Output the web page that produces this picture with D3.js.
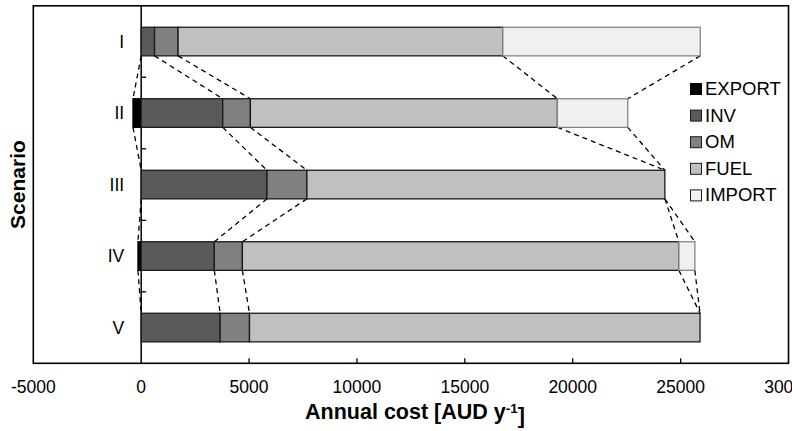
<!DOCTYPE html>
<html>
<head>
<meta charset="utf-8">
<script src="https://cdnjs.cloudflare.com/ajax/libs/d3/7.8.5/d3.min.js"></script>
<style>
	body { margin: 0; background: #ffffff; }
	#vizcontainer { width: 792px; height: 431px; }
	text { font-family: Arial, "Liberation Sans", sans-serif; fill: #000000; }
</style>
</head>
<body>
<div id="vizcontainer"></div>
<script>

// values (AUD per year)
var scenarios = ["I", "II", "III", "IV", "V"];
var exportCost = [0, -380, 0, -150, 0];
var invCost = [620, 3780, 5830, 3390, 3660];
var omCost = [1090, 1280, 1850, 1300, 1360];
var fuelCost = [15050, 14230, 16590, 20230, 20880];
var importCost = [9150, 3260, 0, 740, 0];

var seriesNames = ["EXPORT", "INV", "OM", "FUEL", "IMPORT"];
var seriesColors = ["#000000", "#5a5a5a", "#808080", "#c0c0c0", "#f0f0f0"];
var seriesStrokes = ["#000000", "#1a1a1a", "#1a1a1a", "#1a1a1a", "#858585"];
var xTicks = [-5000, 0, 5000, 10000, 15000, 20000, 25000, 30000];

var wwidth = 792;
var hheight = 431;
var frame = { left: 33.3, right: 788.5, top: 5.8, bottom: 363.3 };

var svg = null;
var x = null;
var y = null;

function buildSegments(){
	// every scenario is a row of stacked pieces, export sits left of zero
	var rows = [];
	for(var i = 0; i < scenarios.length; i++){
		var vals = [exportCost[i], invCost[i], omCost[i], fuelCost[i], importCost[i]];
		var segs = [];
		segs.push({ name: "EXPORT", x0: exportCost[i], x1: 0, k: 0 });
		var acc = 0;
		for(var k = 1; k < vals.length; k++){
			segs.push({ name: seriesNames[k], x0: acc, x1: acc + vals[k], k: k });
			acc = acc + vals[k];
		}
		// the edges joined by the dashed lines
		var edges = [exportCost[i]];
		for(var k = 1; k < segs.length; k++){
			edges.push(segs[k].x1);
		}
		rows.push({ id: scenarios[i], segs: segs, edges: edges });
	}
	return rows;
}

function showViz(){
	console.log("[showViz]");

	svg = d3.select("#vizcontainer").append("svg")
		.attr("width", wwidth)
		.attr("height", hheight);

	x = d3.scaleLinear().domain([-5000, 30000]).range([frame.left, frame.right]);
	y = d3.scaleBand().domain(scenarios).range([frame.top, frame.bottom]).paddingInner(0.6).paddingOuter(0.3);

	var rows = buildSegments();

	// frame
	svg.append("rect")
		.attr("x", frame.left)
		.attr("y", frame.top)
		.attr("width", frame.right - frame.left)
		.attr("height", frame.bottom - frame.top)
		.attr("fill", "none")
		.attr("stroke", "#000000")
		.attr("stroke-width", 1.6);

	// x ticks pointing up from the bottom
	svg.append("g").selectAll(".xtick")
		.data(xTicks.filter(function(d){ return d > 0 && d < 30000; }))
		.enter().append("line")
		.attr("class", "xtick")
		.attr("x1", function(d){ return x(d); })
		.attr("x2", function(d){ return x(d); })
		.attr("y1", frame.bottom)
		.attr("y2", frame.bottom - 5)
		.attr("stroke", "#000000")
		.attr("stroke-width", 1.3);

	svg.append("g").selectAll(".xlabel")
		.data(xTicks)
		.enter().append("text")
		.attr("class", "xlabel")
		.attr("x", function(d){ return x(d); })
		.attr("y", 393)
		.attr("text-anchor", "middle")
		.attr("font-size", "17.5px")
		.text(function(d){ return d; });

	// zero line works as the y axis
	svg.append("line")
		.attr("x1", x(0)).attr("x2", x(0))
		.attr("y1", frame.top).attr("y2", frame.bottom)
		.attr("stroke", "#000000")
		.attr("stroke-width", 1.5);

	var step = y.step();
	var bounds = d3.range(1, scenarios.length).map(function(i){ return frame.top + step * i; });
	svg.append("g").selectAll(".ytick")
		.data(bounds)
		.enter().append("line")
		.attr("class", "ytick")
		.attr("x1", x(0)).attr("x2", x(0) + 5)
		.attr("y1", function(d){ return d; })
		.attr("y2", function(d){ return d; })
		.attr("stroke", "#000000")
		.attr("stroke-width", 1.3);

	svg.append("g").selectAll(".ylabel")
		.data(scenarios)
		.enter().append("text")
		.attr("class", "ylabel")
		.attr("x", x(0) - 17)
		.attr("y", function(d){ return y(d) + y.bandwidth() / 2; })
		.attr("dy", "0.36em")
		.attr("text-anchor", "end")
		.attr("font-size", "17.5px")
		.text(function(d){ return d; });

	// dashed connectors between neighbouring bars
	var links = [];
	for(var i = 0; i < rows.length - 1; i++){
		for(var k = 0; k < rows[i].edges.length; k++){
			links.push({ a: rows[i].edges[k], b: rows[i + 1].edges[k], from: rows[i].id, to: rows[i + 1].id });
		}
	}
	svg.append("g").selectAll(".link")
		.data(links)
		.enter().append("line")
		.attr("class", "link")
		.attr("x1", function(d){ return x(d.a); })
		.attr("y1", function(d){ return y(d.from) + y.bandwidth(); })
		.attr("x2", function(d){ return x(d.b); })
		.attr("y2", function(d){ return y(d.to); })
		.attr("stroke", "#000000")
		.attr("stroke-width", 1.3)
		.attr("stroke-dasharray", "5,4");

	// bars
	var bar = svg.append("g").selectAll(".bar")
		.data(rows)
		.enter().append("g")
		.attr("class", "bar")
		.attr("transform", function(d){ return "translate(0," + y(d.id) + ")"; });

	bar.selectAll("rect")
		.data(function(d){ return d.segs.filter(function(s){ return s.x1 - s.x0 != 0; }); })
		.enter().append("rect")
		.attr("x", function(s){ return x(s.x0); })
		.attr("width", function(s){ return x(s.x1) - x(s.x0); })
		.attr("y", 0)
		.attr("height", y.bandwidth())
		.attr("fill", function(s){ return seriesColors[s.k]; })
		.attr("stroke", function(s){ return seriesStrokes[s.k]; })
		.attr("stroke-width", 1.3);

	// legend
	var legend = svg.append("g").selectAll(".legend")
		.data(seriesNames)
		.enter().append("g")
		.attr("class", "legend")
		.attr("transform", function(d, i){ return "translate(690," + (95 + i * 26.6) + ")"; });

	legend.append("rect")
		.attr("x", 0.5)
		.attr("y", -11.5)
		.attr("width", 11)
		.attr("height", 11)
		.attr("fill", function(d, i){ return seriesColors[i]; })
		.attr("stroke", function(d, i){ return i == 0 ? "#000000" : "#1a1a1a"; })
		.attr("stroke-width", 1);

	legend.append("text")
		.attr("x", 15)
		.attr("y", 0)
		.attr("font-size", "18.5px")
		.text(function(d){ return d; });

	// axis titles
	var xt = svg.append("text")
		.attr("x", 415)
		.attr("y", 419)
		.attr("text-anchor", "middle")
		.attr("font-size", "21.5px")
		.attr("font-weight", "bold");
	xt.append("tspan").text("Annual cost [AUD y");
	xt.append("tspan").attr("dy", "-0.45em").attr("font-size", "13.5px").text("-1");
	xt.append("tspan").attr("dy", "0.45em").text("]");

	svg.append("text")
		.attr("transform", "translate(25," + ((frame.top + frame.bottom) / 2) + ") rotate(-90)")
		.attr("text-anchor", "middle")
		.attr("font-size", "21px")
		.attr("font-weight", "bold")
		.text("Scenario");

	console.log("[showViz][end]");
}

showViz();

</script>
</body>
</html>
